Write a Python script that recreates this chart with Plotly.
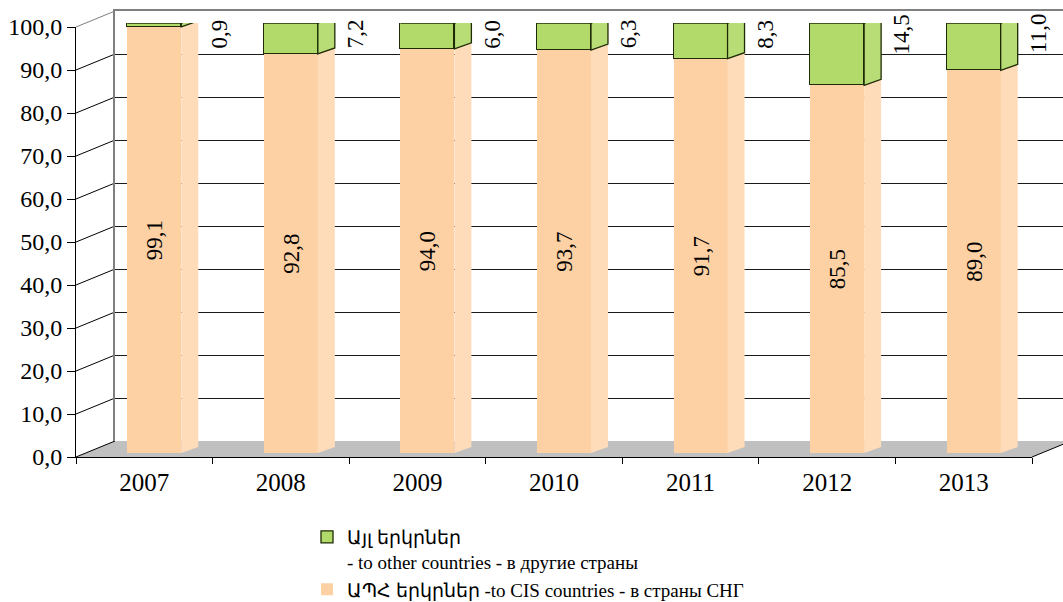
import plotly.graph_objects as go

# ---------------- data ----------------
YEARS = ["2007", "2008", "2009", "2010", "2011", "2012", "2013"]
CIS = [99.1, 92.8, 94.0, 93.7, 91.7, 85.5, 89.0]
OTHER = [0.9, 7.2, 6.0, 6.3, 8.3, 14.5, 11.0]
Y_TICKS = [0, 10, 20, 30, 40, 50, 60, 70, 80, 90, 100]
Y_TICK_TEXT = ["0,0", "10,0", "20,0", "30,0", "40,0", "50,0", "60,0", "70,0", "80,0", "90,0", "100,0"]
NAME_OTHER = "Այլ երկրներ<br>- to other countries - в другие страны"
NAME_CIS = "ԱՊՀ երկրներ -to CIS countries - в страны СНГ"


def fmt(v):
    return f"{v:.1f}".replace(".", ",")


# ---------------- geometry (pixels) ----------------
W, H = 1063, 602
FX0, FX1 = 76, 1032          # front plane x extent
FY_TOP, FY_BOT = 27, 457     # front plane: y of 100 and 0
BACK_DX, BACK_DY = 39, 16    # back wall offset
BAR_DX, BAR_DY = 10, 4       # bar front-face plane offset
SIDE_DX, SIDE_DY = 17, 6     # bar depth
BAR_W = 0.395

N = len(YEARS)
PPC = (FX1 - FX0) / N            # pixels per category
PPU = (FY_BOT - FY_TOP) / 100.0  # pixels per unit
SDX = SIDE_DX / PPC
SDY = SIDE_DY / PPU


def fx(p):
    return p / W


def fy(p):
    return 1 - p / H


FONT = "Liberation Serif"

ORANGE = "#FDD1A4"
ORANGE_SIDE = "#FFDCB9"
GREEN = "#B2DA6A"
GREEN_SIDE = "#B8DC76"
GREEN_TOP = "#A6D152"
EDGE = "#1E2B05"

fig = go.Figure()

# helper (invisible) traces so that the back-wall and front-axis subplots exist
fig.add_trace(go.Scatter(x=[None], y=[None], xaxis="x", yaxis="y",
                         showlegend=False, hoverinfo="skip", mode="markers"))
fig.add_trace(go.Bar(
    x=YEARS, y=CIS, name=NAME_CIS, xaxis="x2", yaxis="y2",
    width=BAR_W, marker=dict(color=ORANGE, line=dict(width=0)),
    text=[fmt(v) for v in CIS], textposition="inside", insidetextanchor="middle",
    textangle=-90, textfont=dict(family=FONT, size=23, color="black"),
    hoverinfo="skip",
))
fig.add_trace(go.Bar(
    x=YEARS, y=OTHER, name=NAME_OTHER, xaxis="x2", yaxis="y2",
    width=BAR_W, marker=dict(color=GREEN, line=dict(width=1.3, color=EDGE)),
    hoverinfo="skip",
))
fig.add_trace(go.Scatter(x=YEARS, y=[None] * N, xaxis="x3", yaxis="y3",
                         showlegend=False, hoverinfo="skip", mode="markers"))

shapes = []
# floor
shapes.append(dict(
    type="path", xref="paper", yref="paper", layer="below",
    path=(f"M {fx(FX0)},{fy(FY_BOT)} L {fx(FX1)},{fy(FY_BOT)} "
          f"L {fx(FX1 + BACK_DX)},{fy(FY_BOT - BACK_DY)} "
          f"L {fx(FX0 + BACK_DX)},{fy(FY_BOT - BACK_DY)} Z"),
    fillcolor="#C0C0C0", line=dict(width=0),
))
# diagonal tick connectors on the left side wall
for v in Y_TICKS:
    yf = FY_BOT - v * PPU
    shapes.append(dict(
        type="line", xref="paper", yref="paper", layer="below",
        x0=fx(FX0), y0=fy(yf), x1=fx(FX0 + BACK_DX), y1=fy(yf - BACK_DY),
        line=dict(color="#808080" if v == 100 else "black", width=1),
    ))
# right floor edge
shapes.append(dict(
    type="line", xref="paper", yref="paper", layer="below",
    x0=fx(FX1), y0=fy(FY_BOT), x1=fx(FX1 + BACK_DX), y1=fy(FY_BOT - BACK_DY),
    line=dict(color="black", width=1),
))

# 3D side and top faces of the bars
for i in range(N):
    xr = i + BAR_W / 2
    xl = i - BAR_W / 2
    segs = [(0, CIS[i], ORANGE_SIDE, 0), (CIS[i], CIS[i] + OTHER[i], GREEN_SIDE, 1.3)]
    for y0, y1, col, lw in segs:
        shapes.append(dict(
            type="path", xref="x2", yref="y2", layer="above",
            path=(f"M {xr},{y0} L {xr + SDX},{y0 + SDY} "
                  f"L {xr + SDX},{y1 + SDY} L {xr},{y1} Z"),
            fillcolor=col, line=dict(width=lw, color=EDGE if lw else col),
        ))
    top = CIS[i] + OTHER[i]
    shapes.append(dict(
        type="path", xref="x2", yref="y2", layer="above",
        path=(f"M {xl},{top} L {xr},{top} L {xr + SDX},{top + SDY} "
              f"L {xl + SDX},{top + SDY} Z"),
        fillcolor=GREEN_TOP, line=dict(width=1.3, color=EDGE),
    ))

annotations = []
for i, v in enumerate(OTHER):
    annotations.append(dict(
        x=i + 0.5, y=100, xref="x2", yref="y2", text=fmt(v),
        showarrow=False, textangle=-90, xanchor="center", yanchor="middle",
        yshift=-11, xshift=-3, font=dict(family=FONT, size=23, color="black"),
    ))

fig.update_layout(
    width=W, height=H, autosize=False,
    margin=dict(l=0, r=0, t=0, b=0, autoexpand=False),
    paper_bgcolor="white", plot_bgcolor="rgba(0,0,0,0)",
    font=dict(family=FONT, color="black"),
    barmode="stack", bargap=0, hovermode=False,
    shapes=shapes, annotations=annotations,
    showlegend=True,
    legend=dict(
        x=fx(307), y=fy(518), xanchor="left", yanchor="top",
        xref="container", yref="container",
        traceorder="reversed", valign="top", itemclick=False,
        font=dict(family=FONT, size=19, color="black"),
        bgcolor="rgba(0,0,0,0)", tracegroupgap=0,
    ),
    # back wall
    xaxis=dict(domain=[fx(FX0 + BACK_DX), 1.0], anchor="y", range=[0, 1],
               showgrid=False, zeroline=False, showticklabels=False, ticks="",
               showline=True, side="top", linecolor="#808080", linewidth=2),
    yaxis=dict(domain=[fy(FY_BOT - BACK_DY), fy(FY_TOP - BACK_DY)], anchor="x",
               range=[0, 100], tickvals=Y_TICKS, showgrid=True, gridcolor="#1a1a1a",
               gridwidth=1, zeroline=False, showticklabels=False, ticks="",
               showline=True, linecolor="#808080", linewidth=1.5),
    # bar plane
    xaxis2=dict(domain=[fx(FX0 + BAR_DX), fx(FX1 + BAR_DX)], anchor="y2",
                type="category", categoryorder="array", categoryarray=YEARS,
                range=[-0.5, N - 0.5], visible=False),
    yaxis2=dict(domain=[fy(FY_BOT - BAR_DY), fy(FY_TOP - BAR_DY)], anchor="x2",
                range=[0, 100], visible=False),
    # front axes
    xaxis3=dict(domain=[fx(FX0), fx(FX1)], anchor="y3",
                type="category", categoryorder="array", categoryarray=YEARS,
                range=[-0.5, N - 0.5], tickson="boundaries", ticks="outside",
                ticklen=6, tickcolor="black", showline=True, linecolor="black",
                linewidth=1, showgrid=False, zeroline=False, ticklabelstandoff=3,
                tickfont=dict(family=FONT, size=25, color="black")),
    yaxis3=dict(domain=[fy(FY_BOT), fy(FY_TOP)], anchor="x3",
                range=[0, 100], tickvals=Y_TICKS, ticktext=Y_TICK_TEXT,
                ticks="outside", ticklen=8, tickcolor="black", showline=True,
                linecolor="black", linewidth=1, showgrid=False, zeroline=False,
                tickfont=dict(family=FONT, size=24, color="black")),
)

fig.write_html("out.html", config={"displayModeBar": False},
               post_script="document.body.style.margin='0';")
